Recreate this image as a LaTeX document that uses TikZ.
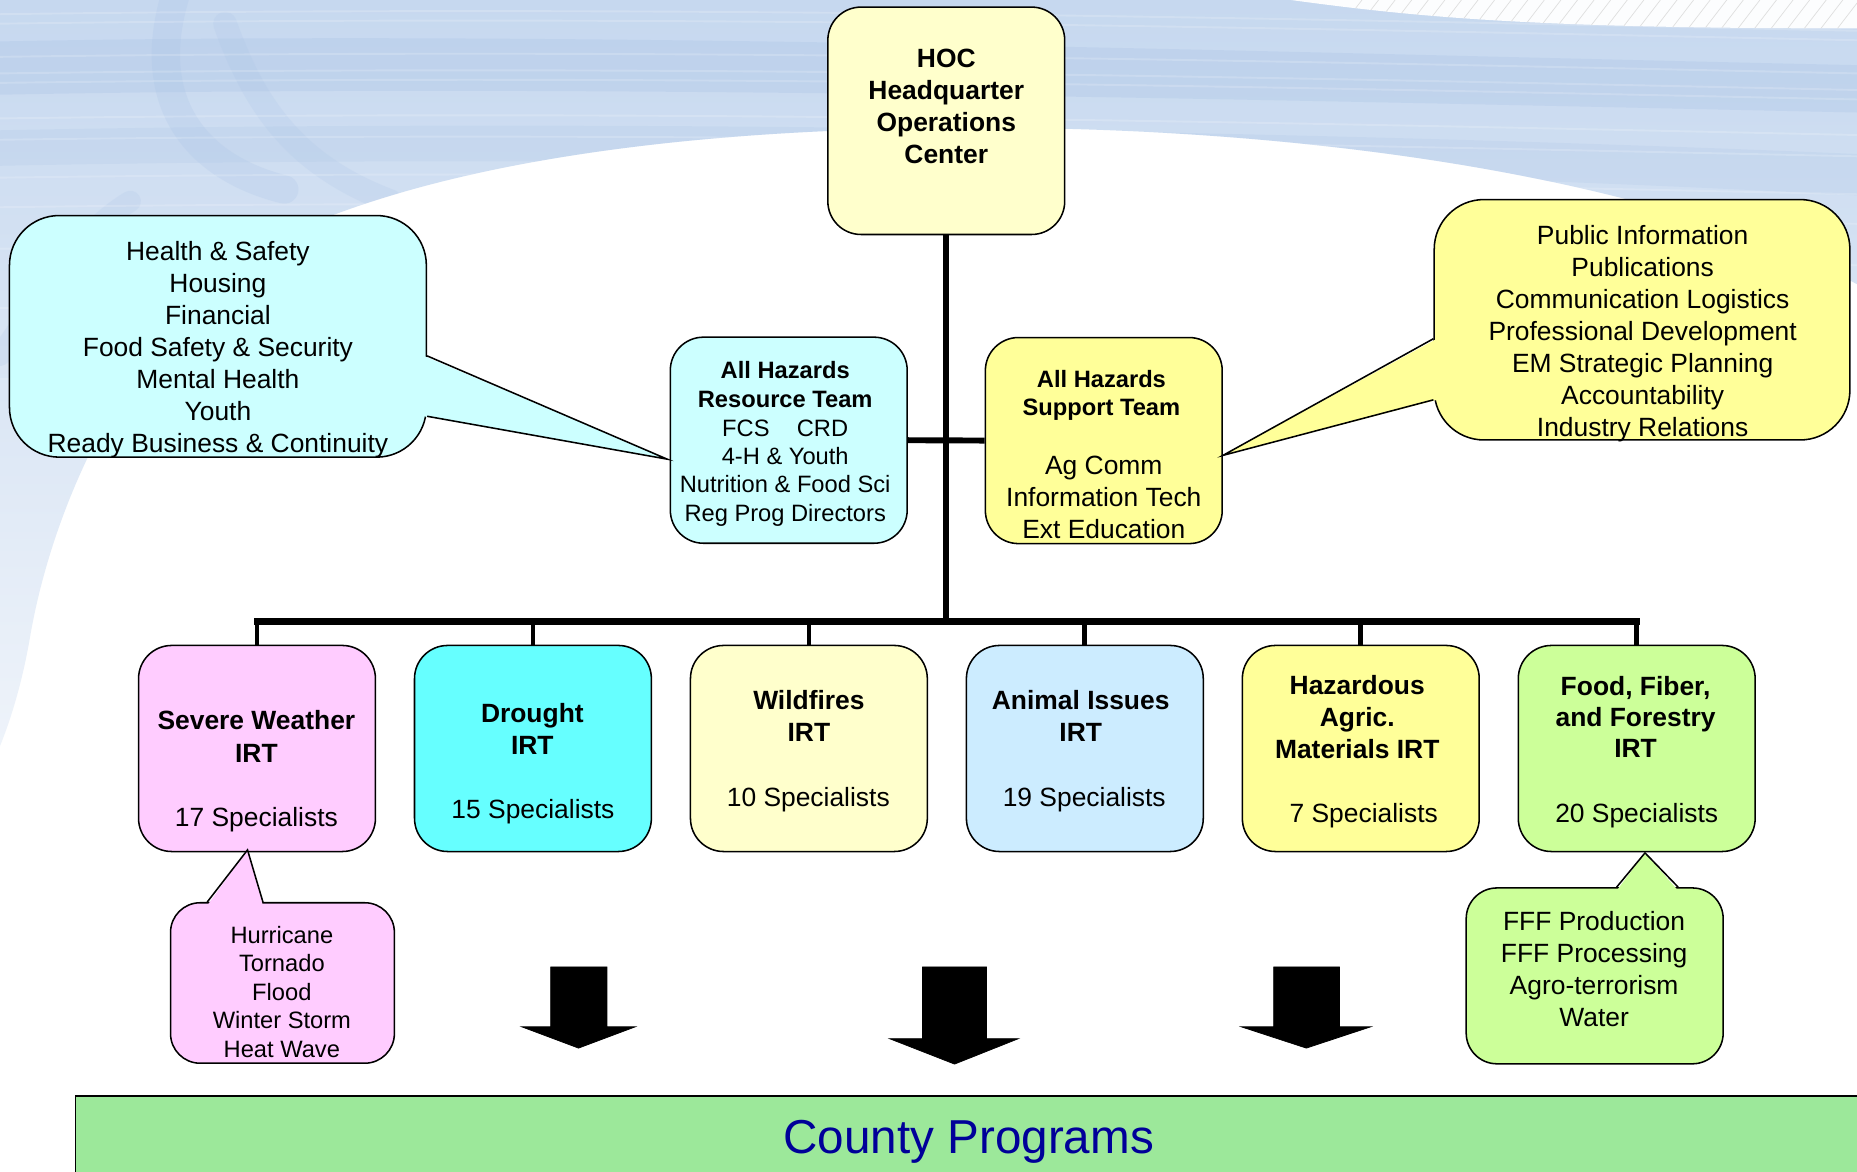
\documentclass[tikz,border=0pt]{standalone}
\usepackage{fontspec}
\setmainfont{Liberation Sans}
\usetikzlibrary{calc}
\definecolor{hocC}{HTML}{FFFFCC}
\definecolor{cyanL}{HTML}{CCFFFF}
\definecolor{yelC}{HTML}{FFFF99}
\definecolor{pinkC}{HTML}{FFCCFF}
\definecolor{drC}{HTML}{66FFFF}
\definecolor{wfC}{HTML}{FFFFCC}
\definecolor{aiC}{HTML}{CCECFF}
\definecolor{ffC}{HTML}{CCFF99}
\definecolor{countyC}{HTML}{9CE89A}
\definecolor{navyC}{HTML}{000099}
\definecolor{bgTop}{HTML}{C6D8EF}
\definecolor{bgBot}{HTML}{EEF3FA}
\definecolor{bgStreak}{HTML}{A8C2E6}
\newcommand\txtlines[6][]{%
  \foreach \tln [count=\tno] in {#6} {%
    \node[#1] (#2-\tno) at ({#3},{#4+(\tno-1)*#5}) {\tln};}}
\begin{document}
\begin{tikzpicture}[x=0.5pt,y=-0.5pt,
  box/.style={draw=black, line width=0.65pt, rounded corners=14pt, inner sep=0pt},
  lbl/.style={inner sep=0pt, text depth=0pt, anchor=center, text=black},
  tA/.style={lbl, font=\fontsize{11.15}{13.5}\selectfont, text height=8pt},
  tAb/.style={lbl, font=\fontsize{11.15}{13.5}\selectfont\bfseries, text height=8pt},
  tB/.style={lbl, font=\fontsize{10}{12}\selectfont, text height=7.2pt},
  tBb/.style={lbl, font=\fontsize{10}{12}\selectfont\bfseries, text height=7.2pt},
  trunk/.style={draw=black, line width=2.5pt},
  busline/.style={draw=black, line width=2.8pt, line cap=rect},
  drop/.style={draw=black, line width=2pt},
  pointer/.style={draw=black, line width=0.65pt, line join=miter},
  blockarrow/.style={fill=black, draw=black, line width=0.3pt},
]
\useasboundingbox (0,0) rectangle (1568,989);
\clip (0,0) rectangle (1568,989);
% ---------------- background ----------------
\fill[white] (0,0) rectangle (1568,989);
\shade[top color=bgTop, bottom color=bgBot]
  (0,0) -- (1568,0) -- (1568,240) .. controls (1400,150) and (1100,105) .. (800,108)
  .. controls (560,110) and (380,140) .. (260,190)
  .. controls (120,250) and (45,420) .. (25,540) .. controls (18,580) and (8,610) .. (0,630) -- cycle;
\begin{scope}
  \clip (0,0) -- (1568,0) -- (1568,240) .. controls (1400,150) and (1100,105) .. (800,108)
  .. controls (560,110) and (380,140) .. (260,190)
  .. controls (120,250) and (45,420) .. (25,540) .. controls (18,580) and (8,610) .. (0,630) -- cycle;
  \fill[bgStreak, opacity=.3] (0,35) .. controls (500,25) and (1100,45) .. (1568,55)
     -- (1568,95) .. controls (1100,85) and (500,70) .. (0,80) -- cycle;
  \fill[bgStreak, opacity=.2] (0,110) .. controls (500,100) and (1100,110) .. (1568,130)
     -- (1568,165) .. controls (1100,140) and (500,130) .. (0,140) -- cycle;
  \draw[bgStreak, opacity=.22, line width=12pt, line cap=round]
     (150,-10) .. controls (120,80) and (160,140) .. (240,160);
  \draw[bgStreak, opacity=.18, line width=10pt, line cap=round]
     (190,20) .. controls (215,90) and (250,140) .. (330,170);
  \draw[bgStreak, opacity=.18, line width=9pt, line cap=round]
     (0,300) .. controls (30,260) and (60,200) .. (110,170);
  \foreach \yy in {12,20,48,62,70,100,118,150,175,210,260,320} {
    \draw[white, opacity=.18, line width=0.8pt] (0,\yy) .. controls (600,\yy-8) and (1100,\yy+4) .. (1568,\yy+14);
  }
\end{scope}
\fill[white!95!bgTop] (1090,0) .. controls (1200,15) and (1300,24) .. (1568,24) -- (1568,0) -- cycle;
\begin{scope}
  \clip (1090,0) .. controls (1200,15) and (1300,24) .. (1568,24) -- (1568,0) -- cycle;
  \foreach \k in {0,...,30} { \draw[gray!25, line width=.3pt] (1150+\k*14,0) -- ++(-20,26); }
\end{scope}
% ---------------- boxes ----------------
\node[box, fill=hocC, minimum width=100pt, minimum height=96pt] (hoc) at (799,102) {};
\node[box, fill=cyanL, minimum width=100pt, minimum height=87pt] (rt) at (666,371.7) {};
\node[box, fill=yelC, minimum width=100pt, minimum height=87pt] (st) at (932,372) {};
\node[box, fill=pinkC, minimum width=100pt, minimum height=87pt] (sw) at (217,632) {};
\node[box, fill=drC, minimum width=100pt, minimum height=87pt] (dr) at (450,632) {};
\node[box, fill=wfC, minimum width=100pt, minimum height=87pt] (wf) at (683,632) {};
\node[box, fill=aiC, minimum width=100pt, minimum height=87pt] (ai) at (916,632) {};
\node[box, fill=yelC, minimum width=100pt, minimum height=87pt] (hz) at (1149,632) {};
\node[box, fill=ffC, minimum width=100pt, minimum height=87pt] (ff) at (1382,632) {};
% ---------------- callouts ----------------
\node[box, rounded corners=21pt, fill=cyanL, minimum width=176pt, minimum height=102pt] (lc) at (184,284) {};
\coordinate (lctip) at ($(rt.west)+(-2,16)$);
\fill[cyanL] ($(lc.east)+(-3,16.5)$) -- (lctip) -- ($(lc.east)+(-3,67.5)$) -- cycle;
\draw[pointer] ($(lc.east)+(0,16.5)$) -- (lctip) -- ($(lc.east)+(0,67.5)$);

\node[box, rounded corners=21pt, fill=yelC, minimum width=175.5pt, minimum height=101.5pt] (rc) at (1386.5,270) {};
\coordinate (rctip) at ($(st.east)+(0,12.5)$);
\fill[yelC] ($(rc.west)+(3,16)$) -- (rctip) -- ($(rc.west)+(3,67.6)$) -- cycle;
\draw[pointer] ($(rc.west)+(0,16)$) -- (rctip) -- ($(rc.west)+(0,67.6)$);

\node[box, rounded corners=12.5pt, fill=pinkC, minimum width=94.5pt, minimum height=67.75pt] (ss) at (238.5,830) {};
\coordinate (sstip) at ($(sw.south)+(-8,-2)$);
\fill[pinkC] ($(ss.north)+(-63.5,3)$) -- (sstip) -- ($(ss.north)+(-16.5,3)$) -- cycle;
\draw[pointer] ($(ss.north)+(-63.5,0)$) -- (sstip) -- ($(ss.north)+(-16.5,0)$);

\node[box, rounded corners=13pt, fill=ffC, minimum width=108.5pt, minimum height=74.25pt] (fs) at (1346.5,824) {};
\coordinate (fstip) at ($(ff.south)+(7,0.5)$);
\fill[ffC] ($(fs.north)+(18.5,3)$) -- (fstip) -- ($(fs.north)+(70.5,3)$) -- cycle;
\draw[pointer] ($(fs.north)+(18.5,0)$) -- (fstip) -- ($(fs.north)+(70.5,0)$);
% ---------------- connectors ----------------
\coordinate (busL) at (217,525);
\coordinate (busR) at (1382,525);
\draw[trunk] (hoc.south) -- (hoc.south |- busL);
\draw[busline] (busL) -- (busR);
\foreach \b in {sw,dr,wf,ai,hz,ff} { \draw[drop] (\b.north |- busL) -- (\b.north); }
\draw[trunk] (rt.east) -- (st.west);
% ---------------- texts ----------------
\txtlines[tAb]{hoct}{799}{49.2}{27}{HOC, Headquarter, Operations, Center}
\txtlines[tBb]{rtt}{663}{312.5}{24.5}{All Hazards, Resource Team}
\txtlines[tB]{rtl}{663}{361}{24}{FCS\hspace{1.15em}CRD, 4-H \& Youth, Nutrition \& Food Sci, Reg Prog Directors}
\txtlines[tBb]{stt}{930}{320}{23.5}{All Hazards, Support Team}
\txtlines[tA]{stl}{932}{392.5}{27}{Ag Comm, Information Tech, Ext Education}
\txtlines[tA]{lct}{184}{212}{27}{Health \& Safety, Housing, Financial, Food Safety \& Security, Mental Health, Youth, Ready Business \& Continuity}
\txtlines[tA]{rct}{1387}{198.7}{27}{Public Information, Publications, Communication Logistics, Professional Development, EM Strategic Planning, Accountability, Industry Relations}
\txtlines[tAb]{swt}{216.5}{608}{27.5}{Severe Weather, IRT}
\node[tA] (swn) at (216.5,689.6) {17 Specialists};
\txtlines[tAb]{drt}{449.5}{602}{27}{Drought, IRT}
\node[tA] (drn) at (450,683.4) {15 Specialists};
\txtlines[tAb]{wft}{683}{591}{27.5}{Wildfires, IRT}
\node[tA] (wfn) at (682.5,672.6) {10 Specialists};
\txtlines[tAb]{ait}{912.5}{591}{27.5}{Animal Issues, IRT}
\node[tA] (ain) at (915.5,672.6) {19 Specialists};
\txtlines[tAb]{hzt}{1146}{578}{27.2}{Hazardous, Agric., Materials IRT}
\node[tA] (hzn) at (1151.5,686.5) {7 Specialists};
\txtlines[tAb]{fft}{1381}{579}{26.5}{{Food, Fiber,}, and Forestry, IRT}
\node[tA] (ffn) at (1382,686.5) {20 Specialists};
\txtlines[tB]{sst}{238}{789.5}{24}{Hurricane, Tornado, Flood, Winter Storm, Heat Wave}
\txtlines[tA]{fst}{1346}{777.8}{27}{FFF Production, FFF Processing, Agro-terrorism, Water}
% ---------------- arrows ----------------
\fill[blockarrow] (465,816.5) -- (512.5,816.5) -- (512.5,867) -- (536.5,867) -- (488.5,885) -- (440.5,867) -- (465,867) -- cycle;
\fill[blockarrow] (779,816.5) -- (833,816.5) -- (833,877) -- (860,877) -- (806,898.5) -- (751,877) -- (779,877) -- cycle;
\fill[blockarrow] (1075.5,816.5) -- (1131,816.5) -- (1131,867) -- (1157.5,867) -- (1103,885) -- (1048,867) -- (1075.5,867) -- cycle;
% ---------------- county programs ----------------
\node[draw=black, line width=0.65pt, fill=countyC, inner sep=0pt, anchor=north west,
      minimum width=790pt, minimum height=60pt] (cp) at (63,925) {};
\node[lbl, font=\fontsize{20.1}{24}\selectfont, text height=14.4pt, text=navyC] (cpt) at (818,959.3) {County Programs};
\end{tikzpicture}
\end{document}
